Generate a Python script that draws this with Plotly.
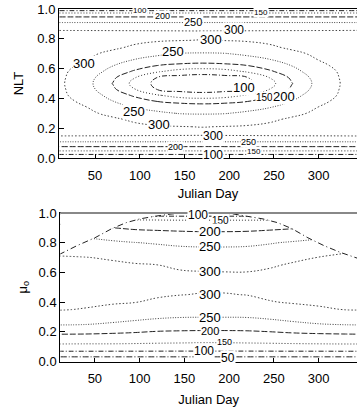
import plotly.graph_objects as go

# ---------------- data ----------------
top_days = [10, 40, 70, 95, 120, 145, 170, 195, 220, 245, 270, 300, 330, 350]
top_nlt = [0.0, 0.03, 0.06, 0.09, 0.125, 0.165, 0.21, 0.26, 0.30, 0.34, 0.38, 0.42, 0.46,
           0.50, 0.54, 0.58, 0.62, 0.66, 0.70, 0.74, 0.79, 0.835, 0.87, 0.905, 0.94, 0.97, 1.0]
top_z = [
    [45, 45, 45, 45, 45, 45, 45, 45, 45, 45, 45, 45, 45, 45],
    [114, 114, 114, 114, 114, 114, 114, 114, 114, 114, 114, 114, 114, 114],
    [175, 175, 175, 175, 175, 175, 175, 175, 175, 175, 175, 175, 175, 175],
    [221, 221, 221, 221, 221, 221, 221, 221, 221, 221, 221, 221, 221, 221],
    [275, 275, 275, 275, 275, 275, 275, 275, 275, 275, 275, 275, 275, 275],
    [318, 317, 316, 315, 314, 313, 312, 313, 314, 315, 316, 317, 318, 320],
    [317, 313, 309, 306, 303, 301, 299, 301, 303, 306, 309, 313, 317, 321],
    [315, 309, 304, 295, 285, 277, 275, 277, 285, 295, 304, 309, 315, 320],
    [314, 306, 293, 275, 258, 248, 246, 248, 258, 275, 293, 306, 314, 319],
    [313, 301, 275, 248, 234, 225, 221, 225, 234, 248, 275, 301, 313, 318],
    [312, 292, 251, 225, 199, 189, 185, 189, 199, 225, 251, 292, 312, 317],
    [310, 280, 232, 191, 155, 128, 118, 128, 155, 191, 232, 280, 310, 316],
    [309, 272, 209, 151, 98, 85, 82, 85, 98, 151, 209, 272, 309, 315],
    [308, 268, 198, 132, 86, 80, 75, 80, 86, 132, 198, 268, 308, 315],
    [309, 272, 209, 151, 98, 85, 82, 85, 98, 151, 209, 272, 309, 315],
    [310, 280, 232, 191, 155, 128, 118, 128, 155, 191, 232, 280, 310, 316],
    [312, 292, 251, 225, 199, 189, 185, 189, 199, 225, 251, 292, 312, 317],
    [313, 301, 275, 248, 234, 225, 221, 225, 234, 248, 275, 301, 313, 318],
    [314, 306, 293, 275, 258, 248, 246, 248, 258, 275, 293, 306, 314, 319],
    [315, 309, 304, 295, 285, 277, 275, 277, 285, 295, 304, 309, 315, 320],
    [317, 313, 309, 306, 303, 301, 299, 301, 303, 306, 309, 313, 317, 321],
    [318, 317, 316, 315, 314, 313, 312, 313, 314, 315, 316, 317, 318, 320],
    [288, 288, 288, 288, 288, 288, 288, 288, 288, 288, 288, 288, 288, 288],
    [255, 255, 255, 255, 255, 255, 255, 255, 255, 255, 255, 255, 255, 255],
    [212, 212, 212, 212, 212, 212, 212, 212, 212, 212, 212, 212, 212, 212],
    [160, 160, 160, 160, 160, 160, 160, 160, 160, 160, 160, 160, 160, 160],
    [65, 65, 65, 65, 65, 65, 65, 65, 65, 65, 65, 65, 65, 65],
]
top_levels = [100, 150, 200, 250, 300]

bot_days = [10, 40, 70, 95, 120, 145, 170, 195, 220, 245, 270, 300, 330, 350]
bot_mu = [0.0, 0.03, 0.06, 0.09, 0.12, 0.15, 0.18, 0.21, 0.25, 0.30, 0.35, 0.40,
          0.45, 0.50, 0.55, 0.60, 0.65, 0.70, 0.75, 0.80, 0.85, 0.90, 0.95, 1.0]
bot_z = [
    [15, 15, 15, 15, 15, 15, 15, 15, 15, 15, 15, 15, 15, 15],
    [48, 48, 48, 48, 48, 48, 48, 48, 48, 48, 48, 48, 48, 48],
    [90, 90, 90, 90, 90, 90, 90, 90, 90, 90, 90, 90, 90, 90],
    [123, 123, 122, 122, 121, 120, 120, 120, 120, 121, 122, 122, 123, 123],
    [152, 151, 151, 149.5, 148, 147, 146, 146, 147, 148, 149.5, 151, 152, 152],
    [174, 173.5, 172, 170, 167, 166, 165, 165, 166, 168, 170.5, 172.5, 174, 174],
    [197, 196, 193, 190, 186, 184, 183, 183, 184, 187, 191, 194, 196, 197],
    [221, 219, 215, 210, 204, 202, 201, 201, 202, 206, 212, 217, 220, 222],
    [253, 250.5, 244, 237, 229, 225, 224, 224, 225, 231, 240, 248, 252, 253],
    [280, 274, 268, 262, 256, 252, 251, 251, 252, 258, 265, 272, 277, 279],
    [302, 298, 290, 283, 274, 269, 267, 267, 269, 278, 286, 295, 301, 301],
    [310, 307, 304, 301, 293, 285, 283, 282, 286, 298, 303, 306, 308, 309],
    [318, 315, 312, 309, 305, 301, 298, 298, 301, 307, 310, 313, 315, 316],
    [325, 323, 320, 317, 313, 309, 307, 307, 309, 315, 318, 321, 322, 323],
    [327, 325, 322, 319, 316, 313, 310, 310, 310, 313, 319, 322, 327, 330],
    [319, 317, 314, 311, 308, 304, 302, 301, 301, 306, 311, 315, 320, 323],
    [311, 309, 306, 303, 300.2, 292, 288, 287, 287, 295, 304, 308, 313, 316],
    [303, 301, 296, 289, 282, 276, 273, 272, 273, 280, 291, 301, 306, 309],
    [289, 283, 277, 270, 265, 260, 258, 258, 259, 264, 272, 283, 296, 301],
    [271, 265, 257, 251, 246, 241, 239, 239, 241, 247, 254, 263, 273, 280],
    [254, 243, 231, 223, 219, 216, 214, 214, 215, 220, 227, 237, 249.5, 255],
    [221, 210, 200.5, 193, 190, 187, 185, 185, 187, 191, 196, 203, 214, 221],
    [178, 168, 162, 157, 155, 153, 153, 153, 153, 155, 158, 163, 170, 178],
    [88, 75, 63, 59, 60, 60, 60, 60, 60, 60, 59, 63, 75, 88],
]
bot_levels = [50, 100, 150, 200, 250, 300]

# upper limit of mu_o reached on each day (dashed dome)
dome_days = [10, 30, 50, 69, 85, 100, 117, 135, 150, 170, 190, 205, 222, 238,
             254, 270, 288, 306, 324, 346]
dome_mu = [0.72, 0.78, 0.833, 0.895, 0.935, 0.96, 0.978, 0.993, 1.0, 1.0, 1.0,
           0.993, 0.978, 0.96, 0.935, 0.895, 0.833, 0.78, 0.735, 0.69]

x_ticks = [50, 100, 150, 200, 250, 300]
y_ticks = [0.0, 0.2, 0.4, 0.6, 0.8, 1.0]

# contour label texts and where they sit on their lines (day, value on y axis)
top_label_text = ["300", "250", "250", "300", "150", "100", "200",
                  "300", "100", "150", "200", "250", "300",
                  "100", "150", "200", "250", "300"]
top_label_day = [38, 137, 93, 121, 239, 217, 261,
                 180, 100, 235, 125, 160, 205,
                 182, 228, 140, 222, 182]
top_label_y = [0.636, 0.712, 0.31, 0.222, 0.405, 0.474, 0.41,
               0.794, 0.99, 0.976, 0.952, 0.91, 0.862,
               0.022, 0.047, 0.075, 0.108, 0.148]
top_label_size = [13, 13, 13, 13, 10, 13, 13,
                  13, 8, 8, 9, 11, 12,
                  12, 8, 9, 9, 12]

bot_label_text = ["150", "100", "200", "250", "300", "300", "250", "200", "150", "100", "50"]
bot_label_day = [190, 165, 179, 179, 179, 179, 179, 179, 195, 172, 199]
bot_label_y = [0.95, 0.984, 0.876, 0.776, 0.605, 0.449, 0.297, 0.208, 0.134, 0.071, 0.026]
bot_label_size = [10, 12, 13, 13, 13, 13, 13, 11, 9, 12, 12]

# ---------------- styling ----------------
W, H = 357, 412
FONT = "Liberation Sans, Arial, Helvetica, sans-serif"
dashes = {50: "6px,2px,1px,2px", 100: "5px,2px,1px,2px", 150: "1px,2px",
          200: "6px,2px", 250: "1px,1.5px", 300: "1.5px,2px"}
colors = {50: "#222", 100: "#222", 150: "#333", 200: "#222", 250: "#444", 300: "#444"}

fig = go.Figure()


def add_levels(x, y, z, levels, xa, ya):
    for lv in levels:
        fig.add_trace(go.Contour(
            x=x, y=y, z=z, xaxis=xa, yaxis=ya,
            autocontour=False,
            contours=dict(start=lv, end=lv, size=50, coloring="none", showlabels=False),
            line=dict(color=colors[lv], width=1, dash=dashes[lv], smoothing=1.2),
            showscale=False, hoverinfo="skip",
        ))


add_levels(top_days, top_nlt, top_z, top_levels, "x", "y")
add_levels(bot_days, bot_mu, bot_z, bot_levels, "x2", "y2")

# white area above the dome, then the dome outline
top_edge = [y_ticks[-1]] * len(dome_days)
fig.add_trace(go.Scatter(x=dome_days, y=top_edge, xaxis="x2", yaxis="y2",
                         mode="lines", line=dict(width=0, color="white"),
                         hoverinfo="skip", showlegend=False))
fig.add_trace(go.Scatter(x=dome_days, y=dome_mu, xaxis="x2", yaxis="y2",
                         mode="lines", fill="tonexty", fillcolor="white",
                         line=dict(color="#222", width=1, dash="6px,3px,1px,3px"),
                         hoverinfo="skip", showlegend=False))

annotations = []
for t, d, v, s in zip(top_label_text, top_label_day, top_label_y, top_label_size):
    annotations.append(dict(x=d, y=v, xref="x", yref="y", text=t, showarrow=False,
                            bgcolor="white", borderpad=0,
                            font=dict(size=s, family=FONT, color="black")))
for t, d, v, s in zip(bot_label_text, bot_label_day, bot_label_y, bot_label_size):
    annotations.append(dict(x=d, y=v, xref="x2", yref="y2", text=t, showarrow=False,
                            bgcolor="white", borderpad=0,
                            font=dict(size=s, family=FONT, color="black")))

axis_common = dict(showgrid=False, zeroline=False, showline=True, linecolor="black",
                   linewidth=1, ticks="inside", tickcolor="black", tickwidth=1,
                   automargin=False,
                   tickfont=dict(size=13, family=FONT, color="black"))

fig.update_layout(
    width=W, height=H, margin=dict(l=0, r=0, t=0, b=0, autoexpand=False),
    paper_bgcolor="white", plot_bgcolor="white", showlegend=False,
    font=dict(family=FONT, size=13, color="black"),
    annotations=annotations,
    shapes=[dict(type="line", xref="x2 domain", yref="y2 domain", x0=0, x1=1, y0=1, y1=1,
                 line=dict(color="#888", width=2), layer="above")],
    xaxis=dict(domain=[59 / W, 1], anchor="y", range=[9.7, 342.8], tickvals=x_ticks,
               ticklen=4, mirror=True, ticklabelstandoff=5,
               title=dict(text="Julian Day", font=dict(size=13), standoff=7),
               **axis_common),
    yaxis=dict(domain=[1 - 158 / H, 1 - 9 / H], anchor="x", range=[0, 1],
               tickvals=y_ticks, tickformat=".1f", ticklen=5,
               title=dict(text="NLT", font=dict(size=13), standoff=10),
               **axis_common),
    xaxis2=dict(domain=[60.3 / W, 1], anchor="y2", range=[11.4, 342.8], tickvals=x_ticks,
                ticklen=4, mirror=True, ticklabelstandoff=5,
                title=dict(text="Julian Day", font=dict(size=13), standoff=9),
                **axis_common),
    yaxis2=dict(domain=[1 - 361.5 / H, 1 - 213 / H], anchor="x2", range=[0, 1],
                tickvals=y_ticks, tickformat=".1f", ticklen=5,
                title=dict(text="μ<sub>o</sub>", font=dict(size=13), standoff=8),
                **axis_common),
)

fig.write_html("out.html", config={"displayModeBar": False},
               post_script="document.body.style.margin='0';")
